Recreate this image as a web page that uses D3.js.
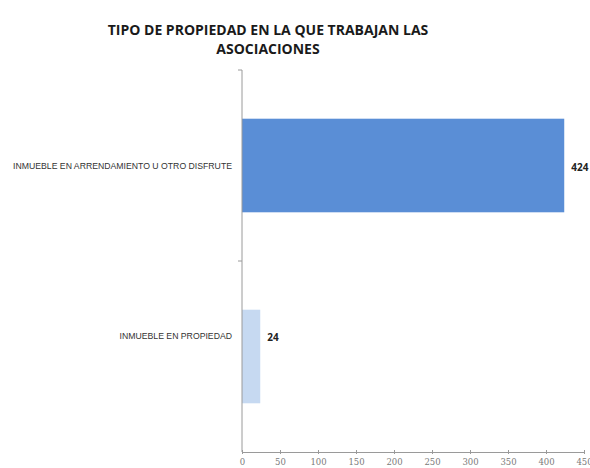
<!DOCTYPE html>
<html>
<head>
<meta charset="utf-8">
<script src="https://cdn.jsdelivr.net/npm/d3@7"></script>
<style>
  html, body { margin: 0; padding: 0; background: #fff; }
  svg { display: block; }
</style>
</head>
<body>
<svg id="chart" width="590" height="468"></svg>
<script>
const titleLines = ["TIPO DE PROPIEDAD EN LA QUE TRABAJAN LAS", "ASOCIACIONES"];
const categories = ["INMUEBLE EN ARRENDAMIENTO U OTRO DISFRUTE", "INMUEBLE EN PROPIEDAD"];
const values = [424, 24];
const barColors = ["#5A8ED6", "#C6D9F1"];
const xTicks = [0, 50, 100, 150, 200, 250, 300, 350, 400, 450];

const svg = d3.select("#chart");
const margin = { left: 242, right: 590 - 584, top: 70, bottom: 468 - 452 };
const W = 590, H = 468;

const x = d3.scaleLinear().domain([0, 450]).range([margin.left, W - margin.right]);
const y = d3.scaleBand().domain(categories).range([margin.top, H - margin.bottom]).paddingInner(0.51).paddingOuter(0.255);

// Title
const title = svg.append("g");
titleLines.forEach((t, i) => {
  title.append("text")
    .attr("x", 268).attr("y", 35 + i * 19)
    .attr("text-anchor", "middle")
    .attr("font-family", "'Open Sans', sans-serif")
    .attr("font-weight", "bold")
    .attr("font-size", 14)
    .attr("fill", "#1a1a1a")
    .text(t);
});

// Bars
svg.selectAll("rect.bar").data(values).enter().append("rect")
  .attr("class", "bar")
  .attr("x", x(0))
  .attr("y", (d, i) => y(categories[i]))
  .attr("width", d => x(d) - x(0))
  .attr("height", y.bandwidth())
  .attr("fill", (d, i) => barColors[i]);

// X axis
const xAxis = d3.axisBottom(x).tickValues(xTicks).tickSize(3).tickSizeOuter(0);
const gx = svg.append("g").attr("transform", `translate(0,${H - margin.bottom})`).call(xAxis);
gx.select(".domain").attr("stroke", "#9a9a9a");
gx.selectAll(".tick line").attr("stroke", "#9a9a9a").attr("y1", -2).attr("y2", 2);
gx.selectAll(".tick text")
  .attr("y", 7)
  .attr("fill", "#7a7a7a")
  .attr("font-family", "'DejaVu Serif', serif")
  .attr("font-size", 8.5)
  .attr("dy", "0.71em");

// Y axis (category line with separators)
const yAxisLine = svg.append("g");
yAxisLine.append("line")
  .attr("x1", x(0)).attr("x2", x(0))
  .attr("y1", margin.top).attr("y2", H - margin.bottom)
  .attr("stroke", "#9a9a9a");
const bounds = [margin.top, (y(categories[0]) + y.bandwidth() + y(categories[1])) / 2];
yAxisLine.selectAll("line.sep").data(bounds).enter().append("line")
  .attr("class", "sep")
  .attr("x1", x(0) - 4).attr("x2", x(0))
  .attr("y1", d => d).attr("y2", d => d)
  .attr("stroke", "#9a9a9a");

// Category labels
const labelShift = [0, -21];
svg.selectAll("text.cat").data(categories).enter().append("text")
  .attr("class", "cat")
  .attr("x", x(0) - 10)
  .attr("y", (d, i) => y(d) + y.bandwidth() / 2 + labelShift[i])
  .attr("dy", "0.35em")
  .attr("text-anchor", "end")
  .attr("font-family", "'Liberation Sans', Arial, sans-serif")
  .attr("font-size", 8.7)
  .attr("fill", "#333")
  .text(d => d);

// Value labels
svg.selectAll("text.val").data(values).enter().append("text")
  .attr("class", "val")
  .attr("x", d => x(d) + 7)
  .attr("y", (d, i) => y(categories[i]) + y.bandwidth() / 2 + labelShift[i] + 2)
  .attr("dy", "0.35em")
  .attr("font-family", "'Open Sans', sans-serif")
  .attr("font-weight", "bold")
  .attr("font-size", 10)
  .attr("fill", "#222")
  .text(d => d);
</script>
</body>
</html>
